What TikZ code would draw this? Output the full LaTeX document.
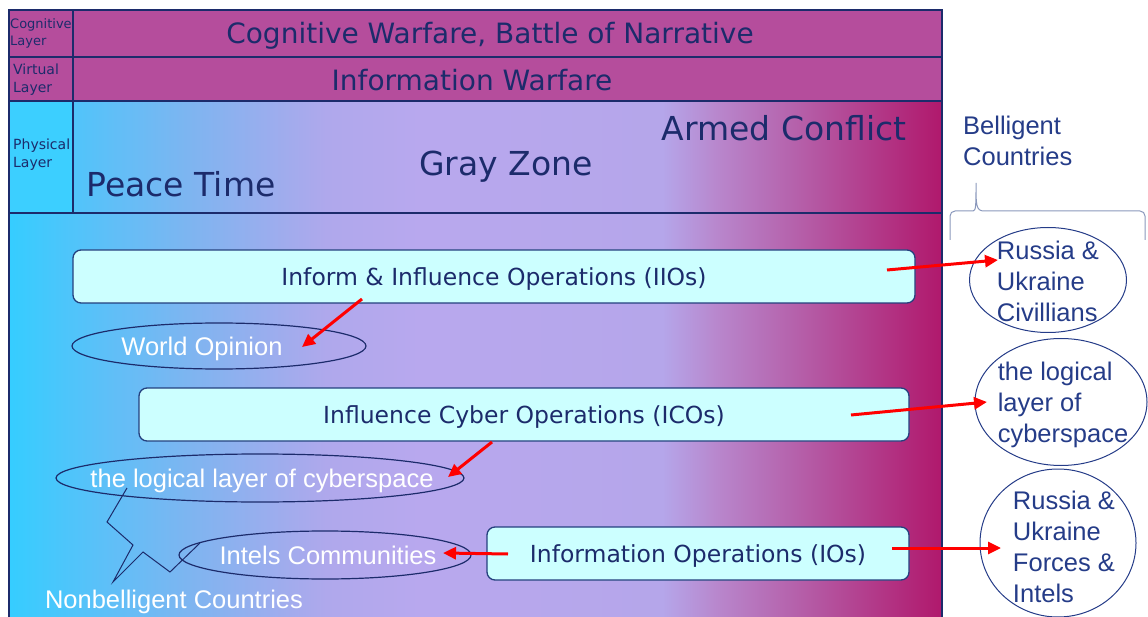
\documentclass[tikz,border=0pt]{standalone}
\usepackage{fontspec}
\setmainfont{DejaVu Sans}
\newfontfamily\arialfont{Liberation Sans}
\usepackage{xcolor}
\usepackage{tikz}
\usetikzlibrary{arrows.meta, positioning, shapes.geometric}
\definecolor{warnavy}{HTML}{1C2B6B}
\definecolor{warmag}{HTML}{B54D9C}
\definecolor{opfill}{HTML}{CCFFFF}
\definecolor{opline}{HTML}{24407E}
\definecolor{layercyan}{HTML}{3CCFFF}
\definecolor{bellblue}{HTML}{253C88}
\definecolor{bracegray}{HTML}{8A98BC}
\definecolor{gza}{HTML}{35CDFF}
\definecolor{gzb}{HTML}{5CC0F8}
\definecolor{gzc}{HTML}{80B4F0}
\definecolor{gzd}{HTML}{AFA8EC}
\definecolor{gze}{HTML}{B8A8EE}
\definecolor{gzf}{HTML}{B5A6EA}
\definecolor{gzg}{HTML}{B886CC}
\definecolor{gzh}{HTML}{B560AA}
\definecolor{gzi}{HTML}{B0186C}
\pgfdeclarehorizontalshading{conflictband}{100bp}{color(0bp)=(gza); color(25bp)=(gza);
  color(30bp)=(gzb); color(35bp)=(gzc); color(42bp)=(gzd); color(47bp)=(gze);
  color(60bp)=(gzf); color(63bp)=(gzg); color(67.25bp)=(gzh); color(75bp)=(gzi); color(100bp)=(gzi)}

\begin{document}
\begin{tikzpicture}[
  x=1pt, y=-1pt,
  frame/.style={draw=warnavy, line width=2.6pt},
  layer/.style={font=\fontsize{14}{18}\selectfont, text=warnavy, align=left, anchor=west, inner sep=0pt},
  war/.style={font=\fontsize{28}{34}\selectfont, text=warnavy, anchor=base, inner sep=0pt},
  phase/.style={font=\fontsize{33}{40}\selectfont, text=warnavy, anchor=base, inner sep=0pt},
  opbox/.style={rectangle, rounded corners=8pt, draw=opline, line width=1.3pt, fill=opfill,
    font=\fontsize{23.5}{28}\selectfont, text=warnavy, text depth=0pt},
  target/.style={ellipse, draw=warnavy, line width=1.2pt, inner sep=0pt},
  tlabel/.style={font=\arialfont\fontsize{25.5}{31}\selectfont, text=white, inner sep=0pt},
  belli/.style={ellipse, draw=bellblue, line width=1pt, inner sep=0pt},
  blabel/.style={font=\arialfont\fontsize{25.5}{31}\selectfont, text=bellblue, align=left, inner sep=0pt},
  arr/.style={-{Triangle[length=13pt,width=12pt]}, line width=3pt, red},
]
  \useasboundingbox (0,0) rectangle (1148,617);
  \fill[warmag] (9,10) rectangle (942,101);
  \shade[shading=conflictband] (9,101) rectangle (942,617);
  \fill[layercyan] (9,101) rectangle (73,213);
  \draw[frame] (9,617) -- (9,10) -- (942,10) -- (942,617);
  \draw[frame] (9,57) -- (942,57);
  \draw[frame] (9,101) -- (942,101);
  \draw[frame] (9,213) -- (942,213);
  \draw[frame] (73,10) -- (73,213);

  \node[layer, font=\fontsize{13}{17}\selectfont] (coglayer) at (10,33) {Cognitive\\Layer};
  \node[layer] (virtlayer) at (13,80) {Virtual\\Layer};
  \node[layer] (physlayer) at (13,155) {Physical\\Layer};
  \node[war] (cogwar) at (490,44) {Cognitive Warfare, Battle of Narrative};
  \node[war] (infowar) at (472,91) {Information Warfare};
  \node[phase] (armed) at (784,141) {Armed Conflict};
  \node[phase] (gray) at (506,176) {Gray Zone};
  \node[phase] (peace) at (181,197) {Peace Time};

  \node[opbox, minimum width=842pt, minimum height=53pt] (iio) at (494,276.5) {Inform \& Influence Operations (IIOs)};
  \node[opbox, minimum width=770pt, minimum height=53pt] (ico) at (524,414.5) {Influence Cyber Operations (ICOs)};
  \node[opbox, minimum width=422pt, minimum height=53pt] (io) at (698,553.5) {Information Operations (IOs)};

  \node[target, minimum width=294pt, minimum height=46pt,
    label={[tlabel, xshift=-17pt, yshift=-3pt]center:World Opinion}] (world) at (219,346) {};
  \node[target, minimum width=408pt, minimum height=48pt,
    label={[tlabel, xshift=2pt, yshift=-3pt]center:the logical layer of cyberspace}] (logic) at (260,478) {};
  \node[target, minimum width=292pt, minimum height=48pt,
    label={[tlabel, xshift=3pt]center:Intels Communities}] (intels) at (325,555) {};
  \node[tlabel] (nonbell) at (174,602) {Nonbelligent Countries};

  \node[belli, minimum width=157pt, minimum height=105pt,
    label={[blabel, yshift=-1pt]center:{Russia \&\\Ukraine\\Civillians}}] (civil) at (1048,280) {};
  \node[belli, minimum width=172pt, minimum height=127pt,
    label={[blabel, xshift=2pt, yshift=-3pt]center:{the logical\\layer of\\cyberspace}}] (cyber) at (1061,402) {};
  \node[belli, minimum width=156pt, minimum height=148pt,
    label={[blabel, xshift=6pt, yshift=-4pt]center:{Russia \&\\Ukraine\\Forces \&\\Intels}}] (forces) at (1058,543) {};
  \node[blabel, anchor=north west] (bellig) at (963,116) {Belligent\\Countries};

  \draw[bracegray, line width=1pt] (950,240) [rounded corners=5pt] -- (950,211) -- (968,211) [sharp corners]
    .. controls (976,211) and (976,205) .. (976,183) .. controls (976,205) and (976,211) .. (984,211)
    [rounded corners=5pt] -- (1145,211) -- (1145,240);
  \draw[warnavy, line width=1pt] (127,488) -- (107,522) -- (133,545) -- (113,582) -- (143,552) -- (170,572) -- (200,543);

  \coordinate (iio-w) at (362,299);
  \coordinate (world-w) at (302,347);
  \coordinate (iio-e) at (887,270);
  \coordinate (civil-w) at (998,260);
  \coordinate (ico-w) at (492,442);
  \coordinate (logic-e) at (448,477);
  \coordinate (ico-e) at (851,415);
  \coordinate (cyber-w) at (987,402);
  \coordinate (io-w) at (508,554);
  \coordinate (intels-e) at (443,553);
  \coordinate (io-e) at (892,548);
  \coordinate (forces-w) at (1001,548);
  \draw[arr] (iio-w) -- (world-w);
  \draw[arr] (iio-e) -- (civil-w);
  \draw[arr] (ico-w) -- (logic-e);
  \draw[arr] (ico-e) -- (cyber-w);
  \draw[arr] (io-w) -- (intels-e);
  \draw[arr] (io-e) -- (forces-w);
\end{tikzpicture}
\end{document}
